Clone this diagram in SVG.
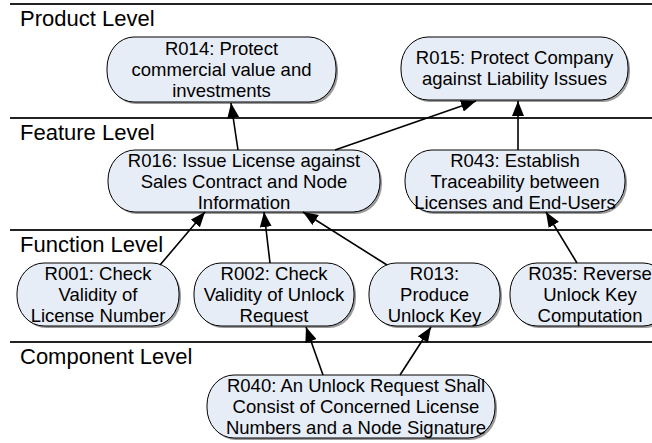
<svg xmlns="http://www.w3.org/2000/svg" width="652" height="443" viewBox="0 0 652 443">
  <style>
    .level { font-family: "Liberation Sans", Arial, sans-serif; font-size: 22px; fill: #000; }
    .sep { stroke: #222; stroke-width: 2; }
    .box { fill: #E7EDF6; stroke: #000; stroke-width: 1; }
    .shadow { fill: #9a9a9a; }
    .label { font-family: "Liberation Sans", Arial, sans-serif; font-size: 18.5px; fill: #000; text-anchor: middle; }
    .link { stroke: #000; stroke-width: 1.6; fill: none; marker-end: url(#head); }
  </style>
  <defs>
    <marker id="head" markerUnits="userSpaceOnUse" markerWidth="16" markerHeight="12" refX="15" refY="6" orient="auto">
      <path d="M0,0 L15,6 L0,12 z" fill="#000"/>
    </marker>
  </defs>

  <rect width="652" height="443" fill="#fff"/>

  <!-- level bands -->
  <g id="levels">
    <line class="sep" x1="10" y1="4" x2="652" y2="4"/>
    <line class="sep" x1="10" y1="118" x2="652" y2="118"/>
    <line class="sep" x1="10" y1="230" x2="652" y2="230"/>
    <line class="sep" x1="10" y1="342" x2="652" y2="342"/>
    <text class="level" x="20" y="26">Product Level</text>
    <text class="level" x="20" y="140">Feature Level</text>
    <text class="level" x="20" y="252">Function Level</text>
    <text class="level" x="20" y="364">Component Level</text>
  </g>

  <!-- requirement nodes -->
  <g id="R014">
    <rect class="shadow" x="109" y="39" width="229" height="65" rx="27" ry="31"/>
    <rect class="box" x="107" y="37" width="229" height="65" rx="27" ry="31"/>
    <text class="label" x="221.5" y="55">R014: Protect</text>
    <text class="label" x="221.5" y="76">commercial value and</text>
    <text class="label" x="221.5" y="97">investments</text>
  </g>
  <g id="R015">
    <rect class="shadow" x="403" y="39" width="227" height="63" rx="27" ry="30"/>
    <rect class="box" x="401" y="37" width="227" height="63" rx="27" ry="30"/>
    <text class="label" x="514.5" y="64">R015: Protect Company</text>
    <text class="label" x="514.5" y="85">against Liability Issues</text>
  </g>
  <g id="R016">
    <rect class="shadow" x="110" y="152" width="272" height="62" rx="27" ry="30"/>
    <rect class="box" x="108" y="150" width="272" height="62" rx="27" ry="30"/>
    <text class="label" x="244" y="166.5">R016: Issue License against</text>
    <text class="label" x="244" y="187.5">Sales Contract and Node</text>
    <text class="label" x="244" y="208.5">Information</text>
  </g>
  <g id="R043">
    <rect class="shadow" x="407" y="152" width="220" height="62" rx="27" ry="30"/>
    <rect class="box" x="405" y="150" width="220" height="62" rx="27" ry="30"/>
    <text class="label" x="515" y="166.5">R043: Establish</text>
    <text class="label" x="515" y="187.5">Traceability between</text>
    <text class="label" x="515" y="208.5">Licenses and End-Users</text>
  </g>
  <g id="R001">
    <rect class="shadow" x="19" y="265" width="162" height="63" rx="27" ry="30"/>
    <rect class="box" x="17" y="263" width="162" height="63" rx="27" ry="30"/>
    <text class="label" x="98" y="280">R001: Check</text>
    <text class="label" x="98" y="301">Validity of</text>
    <text class="label" x="98" y="322">License Number</text>
  </g>
  <g id="R002">
    <rect class="shadow" x="196" y="265" width="160" height="63" rx="27" ry="30"/>
    <rect class="box" x="194" y="263" width="160" height="63" rx="27" ry="30"/>
    <text class="label" x="274" y="280">R002: Check</text>
    <text class="label" x="274" y="301">Validity of Unlock</text>
    <text class="label" x="274" y="322">Request</text>
  </g>
  <g id="R013">
    <rect class="shadow" x="371" y="265" width="131" height="63" rx="27" ry="30"/>
    <rect class="box" x="369" y="263" width="131" height="63" rx="27" ry="30"/>
    <text class="label" x="434.5" y="280">R013:</text>
    <text class="label" x="434.5" y="301">Produce</text>
    <text class="label" x="434.5" y="322">Unlock Key</text>
  </g>
  <g id="R035">
    <rect class="shadow" x="512" y="265" width="160" height="63" rx="27" ry="30"/>
    <rect class="box" x="510" y="263" width="160" height="63" rx="27" ry="30"/>
    <text class="label" x="590" y="280">R035: Reverse</text>
    <text class="label" x="590" y="301">Unlock Key</text>
    <text class="label" x="590" y="322">Computation</text>
  </g>
  <g id="R040">
    <rect class="shadow" x="209" y="377" width="288" height="63" rx="27" ry="30"/>
    <rect class="box" x="207" y="375" width="288" height="63" rx="27" ry="30"/>
    <text class="label" x="356" y="392">R040: An Unlock Request Shall</text>
    <text class="label" x="356" y="413">Consist of Concerned License</text>
    <text class="label" x="356" y="434">Numbers and a Node Signature</text>
  </g>

  <!-- refinement links -->
  <g id="links">
    <line class="link" x1="238" y1="150" x2="231" y2="103"/>
    <line class="link" x1="335" y1="150" x2="476" y2="101"/>
    <line class="link" x1="518" y1="150" x2="518" y2="101"/>
    <line class="link" x1="160" y1="265" x2="205" y2="212"/>
    <line class="link" x1="270" y1="263" x2="264" y2="212"/>
    <line class="link" x1="387" y1="265" x2="303" y2="212"/>
    <line class="link" x1="577" y1="263" x2="546" y2="212"/>
    <line class="link" x1="323" y1="375" x2="306" y2="327"/>
    <line class="link" x1="400" y1="375" x2="431" y2="327"/>
  </g>
</svg>
